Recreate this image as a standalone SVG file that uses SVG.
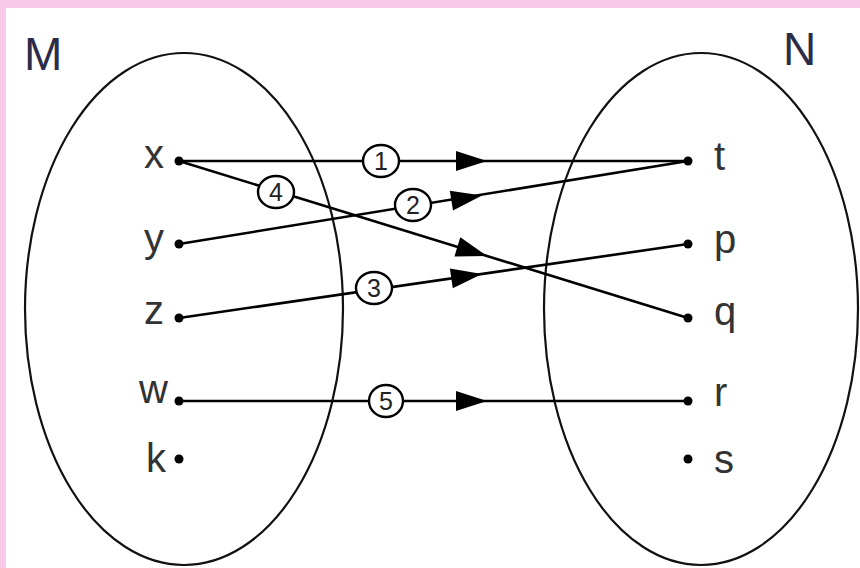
<svg xmlns="http://www.w3.org/2000/svg" xmlns:xlink="http://www.w3.org/1999/xlink" width="860" height="568" viewBox="0 0 860 568">
<style>
.set{fill:none;stroke:#111;stroke-width:2.2}
.lbl{font-family:"Liberation Sans",Arial,sans-serif;font-size:40px;fill:#333}
.title{font-family:"Liberation Sans",Arial,sans-serif;font-size:46px;fill:#2c2c48}
.dot{fill:#000}
.edge{stroke:#000;stroke-width:2.6;fill:none}
.tag ellipse{fill:#fff;stroke:#000;stroke-width:2.4}
.tag text{font-family:"Liberation Sans",Arial,sans-serif;font-size:25px;fill:#222;text-anchor:middle}
.ah{fill:#000}
</style>
<defs>
<path id="ah" d="M0,0 L-31,-10 L-31,10 Z"/>
</defs>
<rect x="0" y="0" width="860" height="568" fill="#f9c9ea"/>
<rect x="6" y="8" width="854" height="560" fill="#fff"/>
<g id="setM">
<ellipse class="set" cx="184" cy="309" rx="159" ry="256"/>
<text class="title" x="24" y="70">M</text>
</g>
<g id="setN">
<ellipse class="set" cx="701" cy="309" rx="157" ry="256"/>
<text class="title" x="783" y="65">N</text>
</g>
<g id="connectors">
<line class="edge" x1="179" y1="161" x2="688" y2="161"/>
<line class="edge" x1="179" y1="244" x2="688" y2="161"/>
<line class="edge" x1="179" y1="318" x2="688" y2="244"/>
<line class="edge" x1="179" y1="161" x2="688" y2="318"/>
<line class="edge" x1="179" y1="401" x2="688" y2="401"/>
<use class="ah" xlink:href="#ah" transform="translate(487,161)"/>
<use class="ah" xlink:href="#ah" transform="translate(482,195.6) rotate(-9.26)"/>
<use class="ah" xlink:href="#ah" transform="translate(482,274) rotate(-8.27)"/>
<use class="ah" xlink:href="#ah" transform="translate(487,256) rotate(17.1)"/>
<use class="ah" xlink:href="#ah" transform="translate(487,401)"/>
<g class="tag"><ellipse cx="381" cy="161" rx="18" ry="16"/><text x="381" y="170">1</text></g>
<g class="tag"><ellipse cx="413" cy="205" rx="18" ry="16"/><text x="413" y="214">2</text></g>
<g class="tag"><ellipse cx="374" cy="288" rx="18" ry="16"/><text x="374" y="297">3</text></g>
<g class="tag"><ellipse cx="276" cy="192" rx="18" ry="16"/><text x="276" y="201">4</text></g>
<g class="tag"><ellipse cx="386" cy="401" rx="17" ry="16"/><text x="386" y="410">5</text></g>
</g>
<g id="node-x"><circle class="dot" cx="179" cy="161" r="4.5"/><text class="lbl" x="164" y="168" text-anchor="end">x</text></g>
<g id="node-y"><circle class="dot" cx="179" cy="244" r="4.5"/><text class="lbl" x="164" y="252" text-anchor="end">y</text></g>
<g id="node-z"><circle class="dot" cx="179" cy="318" r="4.5"/><text class="lbl" x="164" y="324" text-anchor="end">z</text></g>
<g id="node-w"><circle class="dot" cx="179" cy="401" r="4.5"/><text class="lbl" x="168" y="403" text-anchor="end">w</text></g>
<g id="node-k"><circle class="dot" cx="179" cy="459" r="4.5"/><text class="lbl" x="166" y="472" text-anchor="end">k</text></g>
<g id="node-t"><circle class="dot" cx="688" cy="161" r="4.5"/><text class="lbl" x="714" y="170">t</text></g>
<g id="node-p"><circle class="dot" cx="688" cy="244" r="4.5"/><text class="lbl" x="714" y="253">p</text></g>
<g id="node-q"><circle class="dot" cx="688" cy="318" r="4.5"/><text class="lbl" x="714" y="325">q</text></g>
<g id="node-r"><circle class="dot" cx="688" cy="401" r="4.5"/><text class="lbl" x="714" y="406">r</text></g>
<g id="node-s"><circle class="dot" cx="688" cy="459" r="4.5"/><text class="lbl" x="714" y="473">s</text></g>
</svg>
